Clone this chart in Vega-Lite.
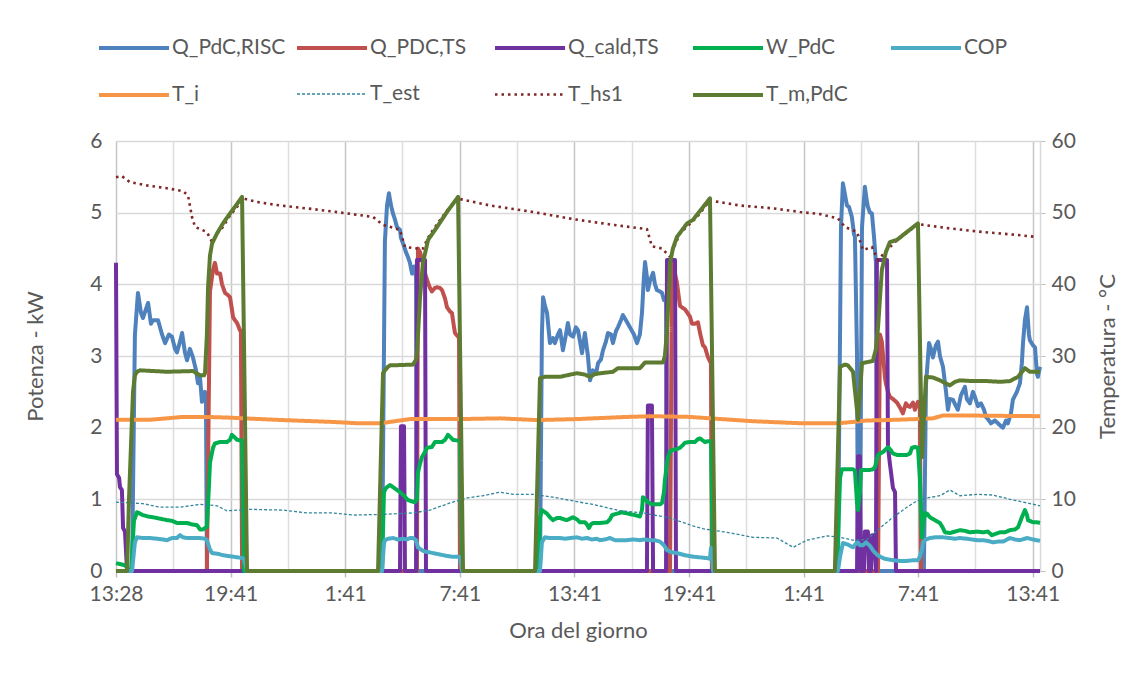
{
  "$schema": "https://vega.github.io/schema/vega-lite/v6.json",
  "width": 924,
  "height": 430,
  "autosize": {"type": "none"},
  "padding": {"left": 116, "top": 141, "right": 108, "bottom": 104},
  "background": "white",
  "config": {
    "font": "Lato",
    "view": {"stroke": null},
    "axis": {"labelColor": "#595959", "titleColor": "#595959", "labelFontSize": 21, "titleFontSize": 22, "titleFontWeight": "normal", "labelFont": "Lato", "titleFont": "Lato"}
  },
  "datasets": {
    "misure": [
      {"s":"Q_PdC,RISC","t":0,"v":0},{"s":"Q_PdC,RISC","t":0.84,"v":0},{"s":"Q_PdC,RISC","t":0.99,"v":3.3},{"s":"Q_PdC,RISC","t":1.15,"v":3.88},{"s":"Q_PdC,RISC","t":1.31,"v":3.6},{"s":"Q_PdC,RISC","t":1.41,"v":3.53},{"s":"Q_PdC,RISC","t":1.68,"v":3.74},{"s":"Q_PdC,RISC","t":1.83,"v":3.45},{"s":"Q_PdC,RISC","t":1.94,"v":3.5},{"s":"Q_PdC,RISC","t":2.2,"v":3.5},{"s":"Q_PdC,RISC","t":2.41,"v":3.3},{"s":"Q_PdC,RISC","t":2.57,"v":3.18},{"s":"Q_PdC,RISC","t":2.77,"v":3.3},{"s":"Q_PdC,RISC","t":2.93,"v":3.27},{"s":"Q_PdC,RISC","t":3.09,"v":3.1},{"s":"Q_PdC,RISC","t":3.19,"v":3.05},{"s":"Q_PdC,RISC","t":3.35,"v":3.2},{"s":"Q_PdC,RISC","t":3.46,"v":3.32},{"s":"Q_PdC,RISC","t":3.61,"v":3.05},{"s":"Q_PdC,RISC","t":3.72,"v":2.94},{"s":"Q_PdC,RISC","t":3.87,"v":3.1},{"s":"Q_PdC,RISC","t":4.03,"v":2.98},{"s":"Q_PdC,RISC","t":4.19,"v":2.8},{"s":"Q_PdC,RISC","t":4.29,"v":2.62},{"s":"Q_PdC,RISC","t":4.4,"v":2.7},{"s":"Q_PdC,RISC","t":4.5,"v":2.36},{"s":"Q_PdC,RISC","t":4.66,"v":2.5},{"s":"Q_PdC,RISC","t":4.71,"v":2.4},{"s":"Q_PdC,RISC","t":4.76,"v":0},
      {"s":"Q_PdC,RISC","t":13.93,"v":0},{"s":"Q_PdC,RISC","t":14.08,"v":4.6},{"s":"Q_PdC,RISC","t":14.19,"v":5.1},{"s":"Q_PdC,RISC","t":14.29,"v":5.27},{"s":"Q_PdC,RISC","t":14.4,"v":5.1},{"s":"Q_PdC,RISC","t":14.5,"v":4.99},{"s":"Q_PdC,RISC","t":14.61,"v":4.9},{"s":"Q_PdC,RISC","t":14.71,"v":4.8},{"s":"Q_PdC,RISC","t":14.87,"v":4.76},{"s":"Q_PdC,RISC","t":14.92,"v":4.65},{"s":"Q_PdC,RISC","t":15.03,"v":4.57},{"s":"Q_PdC,RISC","t":15.18,"v":4.45},{"s":"Q_PdC,RISC","t":15.29,"v":4.38},{"s":"Q_PdC,RISC","t":15.39,"v":4.3},{"s":"Q_PdC,RISC","t":15.5,"v":4.15},{"s":"Q_PdC,RISC","t":15.6,"v":4.25},{"s":"Q_PdC,RISC","t":15.71,"v":4.1},{"s":"Q_PdC,RISC","t":15.76,"v":0},
      {"s":"Q_PdC,RISC","t":22.2,"v":0},{"s":"Q_PdC,RISC","t":22.3,"v":3.3},{"s":"Q_PdC,RISC","t":22.36,"v":3.82},{"s":"Q_PdC,RISC","t":22.46,"v":3.7},{"s":"Q_PdC,RISC","t":22.57,"v":3.6},{"s":"Q_PdC,RISC","t":22.72,"v":3.18},{"s":"Q_PdC,RISC","t":22.88,"v":3.25},{"s":"Q_PdC,RISC","t":22.98,"v":3.18},{"s":"Q_PdC,RISC","t":23.14,"v":3.3},{"s":"Q_PdC,RISC","t":23.25,"v":3.36},{"s":"Q_PdC,RISC","t":23.4,"v":3.08},{"s":"Q_PdC,RISC","t":23.56,"v":3.3},{"s":"Q_PdC,RISC","t":23.66,"v":3.46},{"s":"Q_PdC,RISC","t":23.77,"v":3.3},{"s":"Q_PdC,RISC","t":23.93,"v":3.27},{"s":"Q_PdC,RISC","t":24.08,"v":3.4},{"s":"Q_PdC,RISC","t":24.19,"v":3.36},{"s":"Q_PdC,RISC","t":24.4,"v":3.04},{"s":"Q_PdC,RISC","t":24.55,"v":3.32},{"s":"Q_PdC,RISC","t":24.71,"v":3.0},{"s":"Q_PdC,RISC","t":24.82,"v":2.66},{"s":"Q_PdC,RISC","t":24.97,"v":2.8},{"s":"Q_PdC,RISC","t":25.13,"v":2.75},{"s":"Q_PdC,RISC","t":25.24,"v":2.9},{"s":"Q_PdC,RISC","t":25.39,"v":2.95},{"s":"Q_PdC,RISC","t":25.5,"v":3.08},{"s":"Q_PdC,RISC","t":25.65,"v":3.2},{"s":"Q_PdC,RISC","t":25.76,"v":3.32},{"s":"Q_PdC,RISC","t":25.92,"v":3.3},{"s":"Q_PdC,RISC","t":26.02,"v":3.18},{"s":"Q_PdC,RISC","t":26.18,"v":3.35},{"s":"Q_PdC,RISC","t":26.28,"v":3.4},{"s":"Q_PdC,RISC","t":26.44,"v":3.5},{"s":"Q_PdC,RISC","t":26.54,"v":3.57},{"s":"Q_PdC,RISC","t":26.7,"v":3.5},{"s":"Q_PdC,RISC","t":26.91,"v":3.4},{"s":"Q_PdC,RISC","t":27.12,"v":3.3},{"s":"Q_PdC,RISC","t":27.28,"v":3.18},{"s":"Q_PdC,RISC","t":27.43,"v":3.3},{"s":"Q_PdC,RISC","t":27.54,"v":3.6},{"s":"Q_PdC,RISC","t":27.64,"v":4.1},{"s":"Q_PdC,RISC","t":27.7,"v":4.31},{"s":"Q_PdC,RISC","t":27.8,"v":4.1},{"s":"Q_PdC,RISC","t":27.85,"v":3.92},{"s":"Q_PdC,RISC","t":27.96,"v":4.05},{"s":"Q_PdC,RISC","t":28.12,"v":4.16},{"s":"Q_PdC,RISC","t":28.22,"v":4.0},{"s":"Q_PdC,RISC","t":28.32,"v":3.92},{"s":"Q_PdC,RISC","t":28.48,"v":3.9},{"s":"Q_PdC,RISC","t":28.59,"v":3.88},{"s":"Q_PdC,RISC","t":28.69,"v":3.78},{"s":"Q_PdC,RISC","t":28.8,"v":3.8},{"s":"Q_PdC,RISC","t":28.85,"v":0},
      {"s":"Q_PdC,RISC","t":37.8,"v":0},{"s":"Q_PdC,RISC","t":37.96,"v":4.8},{"s":"Q_PdC,RISC","t":38.06,"v":5.41},{"s":"Q_PdC,RISC","t":38.17,"v":5.25},{"s":"Q_PdC,RISC","t":38.27,"v":5.1},{"s":"Q_PdC,RISC","t":38.38,"v":5.08},{"s":"Q_PdC,RISC","t":38.53,"v":4.94},{"s":"Q_PdC,RISC","t":38.64,"v":4.7},{"s":"Q_PdC,RISC","t":38.69,"v":4.66},{"s":"Q_PdC,RISC","t":38.8,"v":3.0},{"s":"Q_PdC,RISC","t":38.85,"v":0},{"s":"Q_PdC,RISC","t":38.95,"v":0},{"s":"Q_PdC,RISC","t":39.06,"v":4.8},{"s":"Q_PdC,RISC","t":39.21,"v":5.36},{"s":"Q_PdC,RISC","t":39.32,"v":5.15},{"s":"Q_PdC,RISC","t":39.37,"v":5.08},{"s":"Q_PdC,RISC","t":39.48,"v":5.0},{"s":"Q_PdC,RISC","t":39.58,"v":4.99},{"s":"Q_PdC,RISC","t":39.69,"v":4.66},{"s":"Q_PdC,RISC","t":39.79,"v":4.3},{"s":"Q_PdC,RISC","t":39.9,"v":0},
      {"s":"Q_PdC,RISC","t":42.3,"v":0},{"s":"Q_PdC,RISC","t":42.41,"v":2.6},{"s":"Q_PdC,RISC","t":42.57,"v":3.18},{"s":"Q_PdC,RISC","t":42.67,"v":3.1},{"s":"Q_PdC,RISC","t":42.77,"v":2.98},{"s":"Q_PdC,RISC","t":42.93,"v":3.15},{"s":"Q_PdC,RISC","t":43.04,"v":3.2},{"s":"Q_PdC,RISC","t":43.14,"v":3.0},{"s":"Q_PdC,RISC","t":43.3,"v":2.85},{"s":"Q_PdC,RISC","t":43.46,"v":2.5},{"s":"Q_PdC,RISC","t":43.56,"v":2.25},{"s":"Q_PdC,RISC","t":43.66,"v":2.4},{"s":"Q_PdC,RISC","t":43.82,"v":2.39},{"s":"Q_PdC,RISC","t":43.98,"v":2.3},{"s":"Q_PdC,RISC","t":44.08,"v":2.25},{"s":"Q_PdC,RISC","t":44.24,"v":2.45},{"s":"Q_PdC,RISC","t":44.45,"v":2.57},{"s":"Q_PdC,RISC","t":44.55,"v":2.4},{"s":"Q_PdC,RISC","t":44.71,"v":2.34},{"s":"Q_PdC,RISC","t":44.87,"v":2.5},{"s":"Q_PdC,RISC","t":44.97,"v":2.43},{"s":"Q_PdC,RISC","t":45.13,"v":2.3},{"s":"Q_PdC,RISC","t":45.29,"v":2.34},{"s":"Q_PdC,RISC","t":45.45,"v":2.25},{"s":"Q_PdC,RISC","t":45.55,"v":2.15},{"s":"Q_PdC,RISC","t":45.71,"v":2.1},{"s":"Q_PdC,RISC","t":45.81,"v":2.06},{"s":"Q_PdC,RISC","t":46.02,"v":2.1},{"s":"Q_PdC,RISC","t":46.18,"v":2.06},{"s":"Q_PdC,RISC","t":46.34,"v":2.02},{"s":"Q_PdC,RISC","t":46.44,"v":2.0},{"s":"Q_PdC,RISC","t":46.6,"v":2.1},{"s":"Q_PdC,RISC","t":46.7,"v":2.06},{"s":"Q_PdC,RISC","t":46.86,"v":2.2},{"s":"Q_PdC,RISC","t":46.96,"v":2.39},{"s":"Q_PdC,RISC","t":47.17,"v":2.5},{"s":"Q_PdC,RISC","t":47.33,"v":2.62},{"s":"Q_PdC,RISC","t":47.43,"v":2.9},{"s":"Q_PdC,RISC","t":47.49,"v":3.18},{"s":"Q_PdC,RISC","t":47.59,"v":3.5},{"s":"Q_PdC,RISC","t":47.7,"v":3.68},{"s":"Q_PdC,RISC","t":47.8,"v":3.3},{"s":"Q_PdC,RISC","t":47.85,"v":3.22},{"s":"Q_PdC,RISC","t":48.01,"v":3.15},{"s":"Q_PdC,RISC","t":48.12,"v":3.12},{"s":"Q_PdC,RISC","t":48.22,"v":2.75},{"s":"Q_PdC,RISC","t":48.27,"v":2.71},{"s":"Q_PdC,RISC","t":48.38,"v":2.85},

      {"s":"Q_PDC,TS","t":0,"v":0},{"s":"Q_PDC,TS","t":4.76,"v":0},{"s":"Q_PDC,TS","t":4.92,"v":3.9},{"s":"Q_PDC,TS","t":5.08,"v":4.2},{"s":"Q_PDC,TS","t":5.18,"v":4.3},{"s":"Q_PDC,TS","t":5.29,"v":4.15},{"s":"Q_PDC,TS","t":5.45,"v":4.15},{"s":"Q_PDC,TS","t":5.55,"v":4.0},{"s":"Q_PDC,TS","t":5.71,"v":3.88},{"s":"Q_PDC,TS","t":5.86,"v":3.85},{"s":"Q_PDC,TS","t":5.97,"v":3.82},{"s":"Q_PDC,TS","t":6.07,"v":3.65},{"s":"Q_PDC,TS","t":6.13,"v":3.54},{"s":"Q_PDC,TS","t":6.23,"v":3.5},{"s":"Q_PDC,TS","t":6.34,"v":3.46},{"s":"Q_PDC,TS","t":6.49,"v":3.36},{"s":"Q_PDC,TS","t":6.54,"v":3.35},{"s":"Q_PDC,TS","t":6.6,"v":0},
      {"s":"Q_PDC,TS","t":15.76,"v":0},{"s":"Q_PDC,TS","t":15.81,"v":4.5},{"s":"Q_PDC,TS","t":15.92,"v":4.45},{"s":"Q_PDC,TS","t":16.07,"v":4.3},{"s":"Q_PDC,TS","t":16.18,"v":4.15},{"s":"Q_PDC,TS","t":16.34,"v":4.02},{"s":"Q_PDC,TS","t":16.44,"v":3.95},{"s":"Q_PDC,TS","t":16.54,"v":3.9},{"s":"Q_PDC,TS","t":16.7,"v":3.95},{"s":"Q_PDC,TS","t":16.81,"v":3.96},{"s":"Q_PDC,TS","t":16.96,"v":3.95},{"s":"Q_PDC,TS","t":17.07,"v":3.92},{"s":"Q_PDC,TS","t":17.23,"v":3.8},{"s":"Q_PDC,TS","t":17.33,"v":3.68},{"s":"Q_PDC,TS","t":17.49,"v":3.62},{"s":"Q_PDC,TS","t":17.59,"v":3.6},{"s":"Q_PDC,TS","t":17.7,"v":3.4},{"s":"Q_PDC,TS","t":17.75,"v":3.32},{"s":"Q_PDC,TS","t":17.91,"v":3.27},{"s":"Q_PDC,TS","t":17.96,"v":3.25},{"s":"Q_PDC,TS","t":18.01,"v":0},
      {"s":"Q_PDC,TS","t":29.01,"v":0},{"s":"Q_PDC,TS","t":29.11,"v":4.3},{"s":"Q_PDC,TS","t":29.27,"v":4.15},{"s":"Q_PDC,TS","t":29.37,"v":4.02},{"s":"Q_PDC,TS","t":29.53,"v":3.7},{"s":"Q_PDC,TS","t":29.63,"v":3.68},{"s":"Q_PDC,TS","t":29.79,"v":3.65},{"s":"Q_PDC,TS","t":29.9,"v":3.61},{"s":"Q_PDC,TS","t":30.05,"v":3.55},{"s":"Q_PDC,TS","t":30.16,"v":3.45},{"s":"Q_PDC,TS","t":30.31,"v":3.45},{"s":"Q_PDC,TS","t":30.47,"v":3.47},{"s":"Q_PDC,TS","t":30.58,"v":3.32},{"s":"Q_PDC,TS","t":30.73,"v":3.15},{"s":"Q_PDC,TS","t":30.84,"v":3.12},{"s":"Q_PDC,TS","t":31.0,"v":2.98},{"s":"Q_PDC,TS","t":31.15,"v":2.9},{"s":"Q_PDC,TS","t":31.2,"v":0},
      {"s":"Q_PDC,TS","t":39.9,"v":0},{"s":"Q_PDC,TS","t":40.0,"v":3.3},{"s":"Q_PDC,TS","t":40.1,"v":3.2},{"s":"Q_PDC,TS","t":40.26,"v":2.7},{"s":"Q_PDC,TS","t":40.31,"v":2.62},{"s":"Q_PDC,TS","t":40.42,"v":2.5},{"s":"Q_PDC,TS","t":40.52,"v":2.43},{"s":"Q_PDC,TS","t":40.68,"v":2.4},{"s":"Q_PDC,TS","t":40.89,"v":2.35},{"s":"Q_PDC,TS","t":41.05,"v":2.28},{"s":"Q_PDC,TS","t":41.2,"v":2.2},{"s":"Q_PDC,TS","t":41.36,"v":2.34},{"s":"Q_PDC,TS","t":41.47,"v":2.3},{"s":"Q_PDC,TS","t":41.57,"v":2.29},{"s":"Q_PDC,TS","t":41.73,"v":2.35},{"s":"Q_PDC,TS","t":41.83,"v":2.25},{"s":"Q_PDC,TS","t":41.99,"v":2.36},{"s":"Q_PDC,TS","t":42.09,"v":2.3},{"s":"Q_PDC,TS","t":42.15,"v":0},{"s":"Q_PDC,TS","t":48.38,"v":0},

      {"s":"Q_cald,TS","t":0,"v":4.3},{"s":"Q_cald,TS","t":0.05,"v":1.35},{"s":"Q_cald,TS","t":0.16,"v":1.3},{"s":"Q_cald,TS","t":0.21,"v":1.17},{"s":"Q_cald,TS","t":0.31,"v":1.13},{"s":"Q_cald,TS","t":0.37,"v":0.6},{"s":"Q_cald,TS","t":0.47,"v":0.55},{"s":"Q_cald,TS","t":0.52,"v":0.3},{"s":"Q_cald,TS","t":0.58,"v":0},
      {"s":"Q_cald,TS","t":14.87,"v":0},{"s":"Q_cald,TS","t":14.92,"v":2.02},{"s":"Q_cald,TS","t":15.08,"v":2.02},{"s":"Q_cald,TS","t":15.13,"v":0},{"s":"Q_cald,TS","t":15.71,"v":0},{"s":"Q_cald,TS","t":15.76,"v":4.34},{"s":"Q_cald,TS","t":16.18,"v":4.34},{"s":"Q_cald,TS","t":16.23,"v":0},
      {"s":"Q_cald,TS","t":27.8,"v":0},{"s":"Q_cald,TS","t":27.85,"v":2.31},{"s":"Q_cald,TS","t":28.06,"v":2.31},{"s":"Q_cald,TS","t":28.12,"v":0},{"s":"Q_cald,TS","t":28.8,"v":0},{"s":"Q_cald,TS","t":28.85,"v":4.34},{"s":"Q_cald,TS","t":29.27,"v":4.34},{"s":"Q_cald,TS","t":29.32,"v":0},
      {"s":"Q_cald,TS","t":38.8,"v":0},{"s":"Q_cald,TS","t":38.85,"v":1.6},{"s":"Q_cald,TS","t":38.95,"v":1.6},{"s":"Q_cald,TS","t":39.01,"v":0},{"s":"Q_cald,TS","t":39.16,"v":0},{"s":"Q_cald,TS","t":39.21,"v":0.55},{"s":"Q_cald,TS","t":39.37,"v":0.55},{"s":"Q_cald,TS","t":39.42,"v":0},{"s":"Q_cald,TS","t":39.53,"v":0},{"s":"Q_cald,TS","t":39.58,"v":0.5},{"s":"Q_cald,TS","t":39.69,"v":0.5},{"s":"Q_cald,TS","t":39.79,"v":0},{"s":"Q_cald,TS","t":39.84,"v":4.34},{"s":"Q_cald,TS","t":40.37,"v":4.34},{"s":"Q_cald,TS","t":40.42,"v":1.73},{"s":"Q_cald,TS","t":40.52,"v":1.5},{"s":"Q_cald,TS","t":40.68,"v":1.16},{"s":"Q_cald,TS","t":40.79,"v":1.1},{"s":"Q_cald,TS","t":40.84,"v":0},{"s":"Q_cald,TS","t":48.38,"v":0},

      {"s":"W_PdC","t":0,"v":0.11},{"s":"W_PdC","t":0.47,"v":0.08},{"s":"W_PdC","t":0.58,"v":0.05},{"s":"W_PdC","t":0.63,"v":0},{"s":"W_PdC","t":0.79,"v":0},{"s":"W_PdC","t":0.94,"v":0.7},{"s":"W_PdC","t":1.1,"v":0.82},{"s":"W_PdC","t":1.26,"v":0.8},{"s":"W_PdC","t":1.41,"v":0.78},{"s":"W_PdC","t":1.68,"v":0.76},{"s":"W_PdC","t":1.94,"v":0.75},{"s":"W_PdC","t":2.3,"v":0.73},{"s":"W_PdC","t":2.67,"v":0.71},{"s":"W_PdC","t":2.93,"v":0.7},{"s":"W_PdC","t":3.19,"v":0.67},{"s":"W_PdC","t":3.46,"v":0.67},{"s":"W_PdC","t":3.72,"v":0.67},{"s":"W_PdC","t":3.98,"v":0.65},{"s":"W_PdC","t":4.24,"v":0.64},{"s":"W_PdC","t":4.4,"v":0.58},{"s":"W_PdC","t":4.55,"v":0.58},{"s":"W_PdC","t":4.66,"v":0.6},{"s":"W_PdC","t":4.76,"v":0.62},{"s":"W_PdC","t":4.87,"v":1.2},{"s":"W_PdC","t":4.92,"v":1.51},{"s":"W_PdC","t":5.08,"v":1.72},{"s":"W_PdC","t":5.18,"v":1.78},{"s":"W_PdC","t":5.45,"v":1.8},{"s":"W_PdC","t":5.81,"v":1.8},{"s":"W_PdC","t":5.97,"v":1.83},{"s":"W_PdC","t":6.07,"v":1.9},{"s":"W_PdC","t":6.23,"v":1.86},{"s":"W_PdC","t":6.34,"v":1.83},{"s":"W_PdC","t":6.6,"v":1.82},{"s":"W_PdC","t":6.7,"v":0},
      {"s":"W_PdC","t":13.93,"v":0},{"s":"W_PdC","t":14.03,"v":1.1},{"s":"W_PdC","t":14.14,"v":1.16},{"s":"W_PdC","t":14.35,"v":1.2},{"s":"W_PdC","t":14.61,"v":1.15},{"s":"W_PdC","t":14.87,"v":1.1},{"s":"W_PdC","t":15.08,"v":1.05},{"s":"W_PdC","t":15.29,"v":0.99},{"s":"W_PdC","t":15.5,"v":0.97},{"s":"W_PdC","t":15.65,"v":0.96},{"s":"W_PdC","t":15.76,"v":1.0},{"s":"W_PdC","t":15.81,"v":1.37},{"s":"W_PdC","t":15.92,"v":1.5},{"s":"W_PdC","t":16.02,"v":1.59},{"s":"W_PdC","t":16.18,"v":1.66},{"s":"W_PdC","t":16.28,"v":1.72},{"s":"W_PdC","t":16.54,"v":1.73},{"s":"W_PdC","t":16.7,"v":1.8},{"s":"W_PdC","t":17.07,"v":1.8},{"s":"W_PdC","t":17.23,"v":1.83},{"s":"W_PdC","t":17.38,"v":1.9},{"s":"W_PdC","t":17.54,"v":1.86},{"s":"W_PdC","t":17.64,"v":1.83},{"s":"W_PdC","t":17.91,"v":1.82},{"s":"W_PdC","t":18.01,"v":1.8},{"s":"W_PdC","t":18.12,"v":0},
      {"s":"W_PdC","t":22.09,"v":0},{"s":"W_PdC","t":22.2,"v":0.75},{"s":"W_PdC","t":22.3,"v":0.85},{"s":"W_PdC","t":22.46,"v":0.82},{"s":"W_PdC","t":22.57,"v":0.8},{"s":"W_PdC","t":22.72,"v":0.75},{"s":"W_PdC","t":22.88,"v":0.71},{"s":"W_PdC","t":23.09,"v":0.74},{"s":"W_PdC","t":23.25,"v":0.74},{"s":"W_PdC","t":23.46,"v":0.72},{"s":"W_PdC","t":23.61,"v":0.71},{"s":"W_PdC","t":23.77,"v":0.73},{"s":"W_PdC","t":23.93,"v":0.75},{"s":"W_PdC","t":24.14,"v":0.72},{"s":"W_PdC","t":24.29,"v":0.68},{"s":"W_PdC","t":24.55,"v":0.68},{"s":"W_PdC","t":24.66,"v":0.65},{"s":"W_PdC","t":24.76,"v":0.6},{"s":"W_PdC","t":24.87,"v":0.65},{"s":"W_PdC","t":24.97,"v":0.67},{"s":"W_PdC","t":25.34,"v":0.67},{"s":"W_PdC","t":25.71,"v":0.68},{"s":"W_PdC","t":25.86,"v":0.72},{"s":"W_PdC","t":25.97,"v":0.78},{"s":"W_PdC","t":26.23,"v":0.8},{"s":"W_PdC","t":26.49,"v":0.82},{"s":"W_PdC","t":26.81,"v":0.8},{"s":"W_PdC","t":27.17,"v":0.78},{"s":"W_PdC","t":27.43,"v":0.76},{"s":"W_PdC","t":27.54,"v":0.85},{"s":"W_PdC","t":27.59,"v":1.03},{"s":"W_PdC","t":27.75,"v":0.99},{"s":"W_PdC","t":27.85,"v":0.96},{"s":"W_PdC","t":28.06,"v":0.93},{"s":"W_PdC","t":28.48,"v":0.93},{"s":"W_PdC","t":28.59,"v":0.95},{"s":"W_PdC","t":28.69,"v":1.1},{"s":"W_PdC","t":28.74,"v":1.27},{"s":"W_PdC","t":28.85,"v":1.5},{"s":"W_PdC","t":28.9,"v":1.59},{"s":"W_PdC","t":29.01,"v":1.67},{"s":"W_PdC","t":29.16,"v":1.69},{"s":"W_PdC","t":29.37,"v":1.7},{"s":"W_PdC","t":29.53,"v":1.72},{"s":"W_PdC","t":29.69,"v":1.76},{"s":"W_PdC","t":29.79,"v":1.79},{"s":"W_PdC","t":30.05,"v":1.8},{"s":"W_PdC","t":30.31,"v":1.8},{"s":"W_PdC","t":30.47,"v":1.84},{"s":"W_PdC","t":30.58,"v":1.85},{"s":"W_PdC","t":30.73,"v":1.82},{"s":"W_PdC","t":30.84,"v":1.8},{"s":"W_PdC","t":31.0,"v":1.81},{"s":"W_PdC","t":31.15,"v":1.81},{"s":"W_PdC","t":31.26,"v":0},
      {"s":"W_PdC","t":37.75,"v":0},{"s":"W_PdC","t":37.91,"v":1.3},{"s":"W_PdC","t":38.01,"v":1.42},{"s":"W_PdC","t":38.32,"v":1.42},{"s":"W_PdC","t":38.59,"v":1.42},{"s":"W_PdC","t":38.69,"v":1.4},{"s":"W_PdC","t":38.8,"v":0.95},{"s":"W_PdC","t":38.85,"v":0.85},{"s":"W_PdC","t":38.95,"v":1.1},{"s":"W_PdC","t":39.01,"v":1.41},{"s":"W_PdC","t":39.27,"v":1.41},{"s":"W_PdC","t":39.48,"v":1.41},{"s":"W_PdC","t":39.63,"v":1.42},{"s":"W_PdC","t":39.74,"v":1.45},{"s":"W_PdC","t":39.9,"v":1.62},{"s":"W_PdC","t":40.16,"v":1.66},{"s":"W_PdC","t":40.31,"v":1.7},{"s":"W_PdC","t":40.42,"v":1.73},{"s":"W_PdC","t":40.58,"v":1.68},{"s":"W_PdC","t":40.68,"v":1.64},{"s":"W_PdC","t":40.89,"v":1.62},{"s":"W_PdC","t":41.2,"v":1.62},{"s":"W_PdC","t":41.41,"v":1.62},{"s":"W_PdC","t":41.57,"v":1.64},{"s":"W_PdC","t":41.68,"v":1.72},{"s":"W_PdC","t":41.83,"v":1.73},{"s":"W_PdC","t":41.99,"v":1.72},{"s":"W_PdC","t":42.09,"v":1.3},{"s":"W_PdC","t":42.2,"v":0.47},{"s":"W_PdC","t":42.25,"v":0.65},{"s":"W_PdC","t":42.36,"v":0.81},{"s":"W_PdC","t":42.46,"v":0.8},{"s":"W_PdC","t":42.62,"v":0.75},{"s":"W_PdC","t":42.88,"v":0.71},{"s":"W_PdC","t":43.14,"v":0.67},{"s":"W_PdC","t":43.3,"v":0.6},{"s":"W_PdC","t":43.4,"v":0.54},{"s":"W_PdC","t":43.66,"v":0.53},{"s":"W_PdC","t":43.93,"v":0.55},{"s":"W_PdC","t":44.19,"v":0.57},{"s":"W_PdC","t":44.45,"v":0.56},{"s":"W_PdC","t":44.71,"v":0.54},{"s":"W_PdC","t":45.08,"v":0.55},{"s":"W_PdC","t":45.39,"v":0.54},{"s":"W_PdC","t":45.65,"v":0.55},{"s":"W_PdC","t":45.86,"v":0.5},{"s":"W_PdC","t":46.07,"v":0.52},{"s":"W_PdC","t":46.28,"v":0.54},{"s":"W_PdC","t":46.54,"v":0.54},{"s":"W_PdC","t":46.81,"v":0.57},{"s":"W_PdC","t":47.07,"v":0.58},{"s":"W_PdC","t":47.23,"v":0.61},{"s":"W_PdC","t":47.33,"v":0.68},{"s":"W_PdC","t":47.43,"v":0.75},{"s":"W_PdC","t":47.59,"v":0.85},{"s":"W_PdC","t":47.7,"v":0.78},{"s":"W_PdC","t":47.75,"v":0.71},{"s":"W_PdC","t":48.01,"v":0.68},{"s":"W_PdC","t":48.22,"v":0.68},{"s":"W_PdC","t":48.38,"v":0.67},

      {"s":"COP","t":0,"v":0},{"s":"COP","t":0.84,"v":0},{"s":"COP","t":0.99,"v":0.4},{"s":"COP","t":1.1,"v":0.47},{"s":"COP","t":1.41,"v":0.46},{"s":"COP","t":1.78,"v":0.46},{"s":"COP","t":2.15,"v":0.45},{"s":"COP","t":2.46,"v":0.44},{"s":"COP","t":2.67,"v":0.43},{"s":"COP","t":2.93,"v":0.46},{"s":"COP","t":3.19,"v":0.46},{"s":"COP","t":3.35,"v":0.5},{"s":"COP","t":3.51,"v":0.47},{"s":"COP","t":3.72,"v":0.46},{"s":"COP","t":4.14,"v":0.46},{"s":"COP","t":4.4,"v":0.46},{"s":"COP","t":4.66,"v":0.45},{"s":"COP","t":4.76,"v":0.43},{"s":"COP","t":4.92,"v":0.3},{"s":"COP","t":5.03,"v":0.25},{"s":"COP","t":5.34,"v":0.24},{"s":"COP","t":5.6,"v":0.22},{"s":"COP","t":5.86,"v":0.21},{"s":"COP","t":6.13,"v":0.2},{"s":"COP","t":6.39,"v":0.19},{"s":"COP","t":6.6,"v":0.18},{"s":"COP","t":6.7,"v":0.17},{"s":"COP","t":6.86,"v":0},
      {"s":"COP","t":13.93,"v":0},{"s":"COP","t":14.03,"v":0.38},{"s":"COP","t":14.08,"v":0.43},{"s":"COP","t":14.24,"v":0.45},{"s":"COP","t":14.5,"v":0.46},{"s":"COP","t":14.76,"v":0.44},{"s":"COP","t":15.03,"v":0.45},{"s":"COP","t":15.24,"v":0.44},{"s":"COP","t":15.39,"v":0.46},{"s":"COP","t":15.55,"v":0.46},{"s":"COP","t":15.71,"v":0.43},{"s":"COP","t":15.81,"v":0.33},{"s":"COP","t":16.02,"v":0.29},{"s":"COP","t":16.18,"v":0.27},{"s":"COP","t":16.44,"v":0.26},{"s":"COP","t":16.6,"v":0.25},{"s":"COP","t":16.96,"v":0.23},{"s":"COP","t":17.33,"v":0.21},{"s":"COP","t":17.59,"v":0.2},{"s":"COP","t":17.91,"v":0.2},{"s":"COP","t":18.01,"v":0.19},{"s":"COP","t":18.12,"v":0},
      {"s":"COP","t":22.2,"v":0},{"s":"COP","t":22.3,"v":0.4},{"s":"COP","t":22.46,"v":0.47},{"s":"COP","t":22.72,"v":0.46},{"s":"COP","t":22.98,"v":0.46},{"s":"COP","t":23.25,"v":0.46},{"s":"COP","t":23.51,"v":0.45},{"s":"COP","t":23.77,"v":0.46},{"s":"COP","t":24.14,"v":0.47},{"s":"COP","t":24.4,"v":0.45},{"s":"COP","t":24.66,"v":0.46},{"s":"COP","t":24.92,"v":0.44},{"s":"COP","t":25.18,"v":0.45},{"s":"COP","t":25.34,"v":0.43},{"s":"COP","t":25.6,"v":0.44},{"s":"COP","t":25.86,"v":0.46},{"s":"COP","t":26.13,"v":0.43},{"s":"COP","t":26.39,"v":0.43},{"s":"COP","t":26.75,"v":0.43},{"s":"COP","t":27.07,"v":0.44},{"s":"COP","t":27.43,"v":0.43},{"s":"COP","t":27.7,"v":0.44},{"s":"COP","t":27.96,"v":0.43},{"s":"COP","t":28.22,"v":0.43},{"s":"COP","t":28.48,"v":0.41},{"s":"COP","t":28.69,"v":0.36},{"s":"COP","t":28.85,"v":0.29},{"s":"COP","t":29.11,"v":0.26},{"s":"COP","t":29.37,"v":0.25},{"s":"COP","t":29.79,"v":0.22},{"s":"COP","t":30.21,"v":0.2},{"s":"COP","t":30.58,"v":0.19},{"s":"COP","t":30.94,"v":0.18},{"s":"COP","t":31.1,"v":0.17},{"s":"COP","t":31.15,"v":0.32},{"s":"COP","t":31.2,"v":0.3},{"s":"COP","t":31.26,"v":0},
      {"s":"COP","t":37.8,"v":0},{"s":"COP","t":37.91,"v":0.2},{"s":"COP","t":38.06,"v":0.39},{"s":"COP","t":38.32,"v":0.37},{"s":"COP","t":38.59,"v":0.33},{"s":"COP","t":38.74,"v":0.38},{"s":"COP","t":38.85,"v":0.4},{"s":"COP","t":38.95,"v":0.36},{"s":"COP","t":39.11,"v":0.36},{"s":"COP","t":39.27,"v":0.4},{"s":"COP","t":39.48,"v":0.35},{"s":"COP","t":39.63,"v":0.29},{"s":"COP","t":39.84,"v":0.23},{"s":"COP","t":40.0,"v":0.2},{"s":"COP","t":40.26,"v":0.17},{"s":"COP","t":40.68,"v":0.15},{"s":"COP","t":41.05,"v":0.14},{"s":"COP","t":41.41,"v":0.14},{"s":"COP","t":41.73,"v":0.15},{"s":"COP","t":41.99,"v":0.15},{"s":"COP","t":42.09,"v":0.2},{"s":"COP","t":42.2,"v":0.3},{"s":"COP","t":42.25,"v":0.4},{"s":"COP","t":42.41,"v":0.44},{"s":"COP","t":42.62,"v":0.46},{"s":"COP","t":42.88,"v":0.47},{"s":"COP","t":43.3,"v":0.47},{"s":"COP","t":43.66,"v":0.46},{"s":"COP","t":43.93,"v":0.45},{"s":"COP","t":44.19,"v":0.46},{"s":"COP","t":44.55,"v":0.45},{"s":"COP","t":44.82,"v":0.44},{"s":"COP","t":45.08,"v":0.43},{"s":"COP","t":45.39,"v":0.43},{"s":"COP","t":45.65,"v":0.42},{"s":"COP","t":45.92,"v":0.4},{"s":"COP","t":46.18,"v":0.41},{"s":"COP","t":46.44,"v":0.41},{"s":"COP","t":46.81,"v":0.46},{"s":"COP","t":47.07,"v":0.44},{"s":"COP","t":47.33,"v":0.43},{"s":"COP","t":47.7,"v":0.46},{"s":"COP","t":48.01,"v":0.44},{"s":"COP","t":48.38,"v":0.42},

      {"s":"T_i","t":0,"v":21.1},{"s":"T_i","t":1.78,"v":21.1},{"s":"T_i","t":3.51,"v":21.5},{"s":"T_i","t":4.76,"v":21.5},{"s":"T_i","t":5.97,"v":21.4},{"s":"T_i","t":6.65,"v":21.3},{"s":"T_i","t":8.74,"v":21.06},{"s":"T_i","t":11.36,"v":20.8},{"s":"T_i","t":12.77,"v":20.6},{"s":"T_i","t":13.82,"v":20.6},{"s":"T_i","t":14.87,"v":21.0},{"s":"T_i","t":15.39,"v":21.2},{"s":"T_i","t":16.44,"v":21.2},{"s":"T_i","t":18.01,"v":21.2},{"s":"T_i","t":20.1,"v":21.3},{"s":"T_i","t":22.04,"v":21.06},{"s":"T_i","t":24.14,"v":21.2},{"s":"T_i","t":26.75,"v":21.5},{"s":"T_i","t":28.12,"v":21.6},{"s":"T_i","t":30.05,"v":21.5},{"s":"T_i","t":31.1,"v":21.3},{"s":"T_i","t":33.35,"v":20.9},{"s":"T_i","t":35.97,"v":20.6},{"s":"T_i","t":37.75,"v":20.6},{"s":"T_i","t":38.59,"v":20.8},{"s":"T_i","t":39.32,"v":21.0},{"s":"T_i","t":40.37,"v":21.06},{"s":"T_i","t":41.94,"v":21.2},{"s":"T_i","t":42.77,"v":21.3},{"s":"T_i","t":43.3,"v":21.7},{"s":"T_i","t":44.55,"v":21.7},{"s":"T_i","t":46.28,"v":21.65},{"s":"T_i","t":48.38,"v":21.6},

      {"s":"T_est","t":0,"v":9.6},{"s":"T_est","t":0.73,"v":9.5},{"s":"T_est","t":1.41,"v":9.4},{"s":"T_est","t":2.3,"v":8.9},{"s":"T_est","t":3.35,"v":8.9},{"s":"T_est","t":4.4,"v":9.3},{"s":"T_est","t":5.29,"v":9.1},{"s":"T_est","t":5.81,"v":8.4},{"s":"T_est","t":7.02,"v":8.6},{"s":"T_est","t":8.74,"v":8.5},{"s":"T_est","t":10.0,"v":8.1},{"s":"T_est","t":11.36,"v":8.1},{"s":"T_est","t":12.41,"v":7.8},{"s":"T_est","t":13.98,"v":7.9},{"s":"T_est","t":15.55,"v":8.1},{"s":"T_est","t":16.44,"v":8.5},{"s":"T_est","t":17.49,"v":9.5},{"s":"T_est","t":18.38,"v":10.2},{"s":"T_est","t":19.21,"v":10.5},{"s":"T_est","t":20.1,"v":11.0},{"s":"T_est","t":20.79,"v":10.7},{"s":"T_est","t":21.83,"v":10.7},{"s":"T_est","t":22.88,"v":10.3},{"s":"T_est","t":24.29,"v":9.6},{"s":"T_est","t":24.97,"v":9.3},{"s":"T_est","t":26.39,"v":8.4},{"s":"T_est","t":27.59,"v":8.1},{"s":"T_est","t":29.01,"v":7.4},{"s":"T_est","t":30.21,"v":6.3},{"s":"T_est","t":30.73,"v":5.9},{"s":"T_est","t":31.99,"v":5.4},{"s":"T_est","t":33.35,"v":4.7},{"s":"T_est","t":34.61,"v":4.6},{"s":"T_est","t":35.45,"v":3.3},{"s":"T_est","t":36.18,"v":4.3},{"s":"T_est","t":37.23,"v":4.9},{"s":"T_est","t":37.91,"v":4.7},{"s":"T_est","t":38.59,"v":4.3},{"s":"T_est","t":39.32,"v":4.4},{"s":"T_est","t":40.0,"v":6.0},{"s":"T_est","t":40.68,"v":7.5},{"s":"T_est","t":41.41,"v":8.9},{"s":"T_est","t":41.94,"v":9.8},{"s":"T_est","t":42.46,"v":10.2},{"s":"T_est","t":43.14,"v":10.5},{"s":"T_est","t":43.66,"v":11.3},{"s":"T_est","t":44.19,"v":10.5},{"s":"T_est","t":45.08,"v":10.7},{"s":"T_est","t":45.92,"v":10.6},{"s":"T_est","t":46.81,"v":10.0},{"s":"T_est","t":47.7,"v":9.5},{"s":"T_est","t":48.38,"v":9.1},

      {"s":"T_hs1","t":0,"v":54.95},{"s":"T_hs1","t":0.31,"v":55.1},{"s":"T_hs1","t":0.73,"v":54.25},{"s":"T_hs1","t":1.62,"v":53.8},{"s":"T_hs1","t":2.67,"v":53.4},{"s":"T_hs1","t":3.51,"v":53.0},{"s":"T_hs1","t":3.77,"v":52.4},{"s":"T_hs1","t":3.98,"v":49.4},{"s":"T_hs1","t":4.14,"v":48.0},{"s":"T_hs1","t":4.76,"v":47.3},{"s":"T_hs1","t":5.03,"v":45.9},{"s":"T_hs1","t":5.29,"v":47.1},{"s":"T_hs1","t":5.6,"v":48.0},{"s":"T_hs1","t":5.97,"v":49.6},{"s":"T_hs1","t":6.49,"v":51.3},{"s":"T_hs1","t":6.65,"v":52.0},{"s":"T_hs1","t":7.38,"v":51.5},{"s":"T_hs1","t":8.59,"v":51.0},{"s":"T_hs1","t":10.31,"v":50.5},{"s":"T_hs1","t":12.09,"v":49.9},{"s":"T_hs1","t":13.46,"v":49.4},{"s":"T_hs1","t":13.98,"v":48.3},{"s":"T_hs1","t":14.87,"v":47.6},{"s":"T_hs1","t":15.13,"v":45.2},{"s":"T_hs1","t":15.76,"v":45.0},{"s":"T_hs1","t":16.07,"v":45.0},{"s":"T_hs1","t":16.34,"v":46.5},{"s":"T_hs1","t":16.6,"v":47.6},{"s":"T_hs1","t":17.33,"v":50.3},{"s":"T_hs1","t":17.91,"v":52.0},{"s":"T_hs1","t":18.01,"v":51.9},{"s":"T_hs1","t":19.58,"v":51.0},{"s":"T_hs1","t":21.83,"v":50.1},{"s":"T_hs1","t":23.93,"v":49.1},{"s":"T_hs1","t":26.02,"v":48.3},{"s":"T_hs1","t":27.8,"v":47.7},{"s":"T_hs1","t":28.06,"v":45.3},{"s":"T_hs1","t":28.59,"v":45.0},{"s":"T_hs1","t":29.01,"v":43.8},{"s":"T_hs1","t":29.27,"v":45.5},{"s":"T_hs1","t":29.53,"v":47.1},{"s":"T_hs1","t":30.42,"v":49.4},{"s":"T_hs1","t":31.1,"v":51.7},{"s":"T_hs1","t":32.67,"v":51.0},{"s":"T_hs1","t":34.4,"v":50.6},{"s":"T_hs1","t":35.81,"v":50.1},{"s":"T_hs1","t":36.86,"v":49.8},{"s":"T_hs1","t":37.8,"v":49.2},{"s":"T_hs1","t":38.17,"v":48.0},{"s":"T_hs1","t":38.8,"v":47.3},{"s":"T_hs1","t":39.11,"v":44.8},{"s":"T_hs1","t":39.58,"v":45.2},{"s":"T_hs1","t":39.9,"v":43.4},{"s":"T_hs1","t":40.37,"v":44.8},{"s":"T_hs1","t":40.79,"v":45.9},{"s":"T_hs1","t":41.99,"v":48.4},{"s":"T_hs1","t":43.66,"v":47.8},{"s":"T_hs1","t":45.39,"v":47.3},{"s":"T_hs1","t":47.17,"v":46.9},{"s":"T_hs1","t":48.22,"v":46.6},

      {"s":"T_m,PdC","t":0,"v":0},{"s":"T_m,PdC","t":0.58,"v":0},{"s":"T_m,PdC","t":0.68,"v":10},{"s":"T_m,PdC","t":0.89,"v":25},{"s":"T_m,PdC","t":0.99,"v":27.3},{"s":"T_m,PdC","t":1.1,"v":27.8},{"s":"T_m,PdC","t":1.26,"v":28.0},{"s":"T_m,PdC","t":2.67,"v":27.8},{"s":"T_m,PdC","t":4.03,"v":27.9},{"s":"T_m,PdC","t":4.4,"v":27.3},{"s":"T_m,PdC","t":4.61,"v":27.3},{"s":"T_m,PdC","t":4.66,"v":27.6},{"s":"T_m,PdC","t":4.76,"v":33},{"s":"T_m,PdC","t":4.82,"v":39.6},{"s":"T_m,PdC","t":4.92,"v":44},{"s":"T_m,PdC","t":5.03,"v":45.7},{"s":"T_m,PdC","t":5.29,"v":47.1},{"s":"T_m,PdC","t":5.6,"v":48.5},{"s":"T_m,PdC","t":5.97,"v":49.9},{"s":"T_m,PdC","t":6.28,"v":51.0},{"s":"T_m,PdC","t":6.6,"v":52.2},{"s":"T_m,PdC","t":6.86,"v":0},
      {"s":"T_m,PdC","t":13.72,"v":0},{"s":"T_m,PdC","t":13.98,"v":27.6},{"s":"T_m,PdC","t":14.08,"v":28.0},{"s":"T_m,PdC","t":14.24,"v":28.5},{"s":"T_m,PdC","t":14.35,"v":28.7},{"s":"T_m,PdC","t":14.5,"v":28.7},{"s":"T_m,PdC","t":15.55,"v":28.8},{"s":"T_m,PdC","t":15.71,"v":29.5},{"s":"T_m,PdC","t":15.76,"v":30.4},{"s":"T_m,PdC","t":15.92,"v":38.2},{"s":"T_m,PdC","t":16.07,"v":43.0},{"s":"T_m,PdC","t":16.34,"v":46.2},{"s":"T_m,PdC","t":16.81,"v":48.0},{"s":"T_m,PdC","t":17.33,"v":50.1},{"s":"T_m,PdC","t":17.91,"v":52.2},{"s":"T_m,PdC","t":18.17,"v":0},
      {"s":"T_m,PdC","t":21.94,"v":0},{"s":"T_m,PdC","t":22.2,"v":26.9},{"s":"T_m,PdC","t":22.46,"v":27.1},{"s":"T_m,PdC","t":23.25,"v":27.1},{"s":"T_m,PdC","t":24.14,"v":27.6},{"s":"T_m,PdC","t":24.55,"v":27.4},{"s":"T_m,PdC","t":24.82,"v":27.1},{"s":"T_m,PdC","t":25.08,"v":27.5},{"s":"T_m,PdC","t":26.02,"v":27.8},{"s":"T_m,PdC","t":26.28,"v":28.3},{"s":"T_m,PdC","t":27.43,"v":28.3},{"s":"T_m,PdC","t":27.7,"v":29.1},{"s":"T_m,PdC","t":28.64,"v":29.1},{"s":"T_m,PdC","t":28.74,"v":30.0},{"s":"T_m,PdC","t":28.85,"v":33.6},{"s":"T_m,PdC","t":29.01,"v":43.0},{"s":"T_m,PdC","t":29.16,"v":45.0},{"s":"T_m,PdC","t":29.37,"v":46.6},{"s":"T_m,PdC","t":29.9,"v":48.5},{"s":"T_m,PdC","t":30.21,"v":49.0},{"s":"T_m,PdC","t":31.1,"v":52.0},{"s":"T_m,PdC","t":31.36,"v":0},
      {"s":"T_m,PdC","t":37.64,"v":0},{"s":"T_m,PdC","t":37.91,"v":28.5},{"s":"T_m,PdC","t":38.17,"v":28.8},{"s":"T_m,PdC","t":38.32,"v":28.7},{"s":"T_m,PdC","t":38.59,"v":27.8},{"s":"T_m,PdC","t":38.85,"v":21.1},{"s":"T_m,PdC","t":39.06,"v":29.0},{"s":"T_m,PdC","t":39.63,"v":29.3},{"s":"T_m,PdC","t":39.79,"v":31.0},{"s":"T_m,PdC","t":39.9,"v":34.0},{"s":"T_m,PdC","t":40.1,"v":42.0},{"s":"T_m,PdC","t":40.31,"v":44.5},{"s":"T_m,PdC","t":40.52,"v":45.9},{"s":"T_m,PdC","t":40.89,"v":46.2},{"s":"T_m,PdC","t":41.31,"v":47.1},{"s":"T_m,PdC","t":41.99,"v":48.5},{"s":"T_m,PdC","t":42.2,"v":15.9},{"s":"T_m,PdC","t":42.41,"v":27.1},{"s":"T_m,PdC","t":42.77,"v":27.0},{"s":"T_m,PdC","t":43.14,"v":26.6},{"s":"T_m,PdC","t":43.66,"v":25.9},{"s":"T_m,PdC","t":43.93,"v":26.4},{"s":"T_m,PdC","t":44.19,"v":26.6},{"s":"T_m,PdC","t":44.87,"v":26.5},{"s":"T_m,PdC","t":45.6,"v":26.5},{"s":"T_m,PdC","t":46.28,"v":26.4},{"s":"T_m,PdC","t":46.81,"v":26.5},{"s":"T_m,PdC","t":47.23,"v":27.1},{"s":"T_m,PdC","t":47.59,"v":28.3},{"s":"T_m,PdC","t":47.85,"v":27.8},{"s":"T_m,PdC","t":48.38,"v":27.8}
    ]
  },
  "data": {"name": "misure"},
  "encoding": {
    "x": {
      "field": "t",
      "type": "quantitative",
      "scale": {"domain": [0, 48.38], "nice": false, "zero": false},
      "axis": {
        "title": "Ora del giorno",
        "values": [0, 3, 6, 9, 12, 15, 18, 21, 24, 27, 30, 33, 36, 39, 42, 45, 48],
        "labelExpr": "datum.value % 6 == 0 ? ['13:28','19:41','1:41','7:41','13:41','19:41','1:41','7:41','13:41'][datum.value / 6] : ''",
        "grid": true,
        "gridColor": {"condition": {"test": "datum.value % 6 == 0", "value": "#c6c6c6"}, "value": "#dddddd"},
        "gridWidth": 1.5,
        "domainColor": "#bfbfbf",
        "domainWidth": 1.5,
        "tickColor": "#bfbfbf",
        "tickSize": 6,
        "tickWidth": 1.5,
        "tickOpacity": {"condition": {"test": "datum.value % 6 == 0", "value": 1}, "value": 0},
        "labelPadding": 6,
        "labelFlush": false,
        "labelOverlap": false,
        "titlePadding": 16
      }
    },
    "color": {
      "field": "s",
      "type": "nominal",
      "scale": {
        "domain": ["Q_PdC,RISC", "Q_PDC,TS", "Q_cald,TS", "W_PdC", "COP", "T_i", "T_est", "T_hs1", "T_m,PdC"],
        "range": ["#4F81BD", "#C0504D", "#7030A0", "#00B050", "#4BACC6", "#F79646", "#31859C", "#7F2626", "#5E7B32"]
      },
      "legend": {
        "title": null,
        "orient": "none",
        "legendX": -19,
        "legendY": -130,
        "direction": "horizontal",
        "columns": 5,
        "gridAlign": "all",
        "symbolType": "stroke",
        "symbolSize": 4900,
        "labelFontSize": 21,
        "labelColor": "#595959",
        "labelFont": "Lato",
        "labelOffset": 1,
        "labelLimit": 220,
        "columnPadding": 3,
        "rowPadding": -6
      }
    },
    "strokeDash": {
      "field": "s",
      "type": "nominal",
      "scale": {
        "domain": ["Q_PdC,RISC", "Q_PDC,TS", "Q_cald,TS", "W_PdC", "COP", "T_i", "T_est", "T_hs1", "T_m,PdC"],
        "range": [[1, 0], [1, 0], [1, 0], [1, 0], [1, 0], [1, 0], [3, 2], [2.5, 4], [1, 0]]
      }
    },
    "strokeWidth": {
      "field": "s",
      "type": "nominal",
      "scale": {
        "type": "ordinal",
        "domain": ["Q_PdC,RISC", "Q_PDC,TS", "Q_cald,TS", "W_PdC", "COP", "T_i", "T_est", "T_hs1", "T_m,PdC"],
        "range": [4, 4, 4, 4, 4, 4, 1.3, 2.6, 4]
      }
    }
  },
  "layer": [
    {
      "encoding": {
        "y": {
          "field": "v",
          "type": "quantitative",
          "scale": {"domain": [0, 6], "nice": false},
          "axis": {
            "title": "Potenza - kW",
            "values": [0, 1, 2, 3, 4, 5, 6],
            "grid": true,
            "gridColor": "#d9d9d9",
            "gridWidth": 1.5,
            "domain": false,
            "ticks": false,
            "labelPadding": 14,
            "titlePadding": 42
          }
        }
      },
      "layer": [
        {"transform": [{"filter": {"field": "s", "equal": "Q_PdC,RISC"}}], "mark": {"type": "line", "strokeJoin": "round"}},
        {"transform": [{"filter": {"field": "s", "equal": "Q_PDC,TS"}}], "mark": {"type": "line", "strokeJoin": "round"}},
        {"transform": [{"filter": {"field": "s", "equal": "Q_cald,TS"}}], "mark": {"type": "line", "strokeJoin": "round"}},
        {"transform": [{"filter": {"field": "s", "equal": "W_PdC"}}], "mark": {"type": "line", "strokeJoin": "round"}},
        {"transform": [{"filter": {"field": "s", "equal": "COP"}}], "mark": {"type": "line", "strokeJoin": "round"}}
      ]
    },
    {
      "encoding": {
        "y": {
          "field": "v",
          "type": "quantitative",
          "scale": {"domain": [0, 60], "nice": false},
          "axis": {
            "orient": "right",
            "title": "Temperatura - °C",
            "titleAngle": 270,
            "values": [0, 10, 20, 30, 40, 50, 60],
            "grid": false,
            "domain": true,
            "domainColor": "#d9d9d9",
            "domainWidth": 1.5,
            "ticks": true,
            "tickColor": "#bfbfbf",
            "tickSize": 5,
            "labelPadding": 6,
            "titlePadding": 44
          }
        }
      },
      "layer": [
        {"transform": [{"filter": {"field": "s", "equal": "T_i"}}], "mark": {"type": "line", "strokeJoin": "round"}},
        {"transform": [{"filter": {"field": "s", "equal": "T_est"}}], "mark": {"type": "line"}},
        {"transform": [{"filter": {"field": "s", "equal": "T_hs1"}}], "mark": {"type": "line"}},
        {"transform": [{"filter": {"field": "s", "equal": "T_m,PdC"}}], "mark": {"type": "line", "strokeJoin": "round"}}
      ]
    }
  ],
  "resolve": {"scale": {"y": "independent"}}
}
